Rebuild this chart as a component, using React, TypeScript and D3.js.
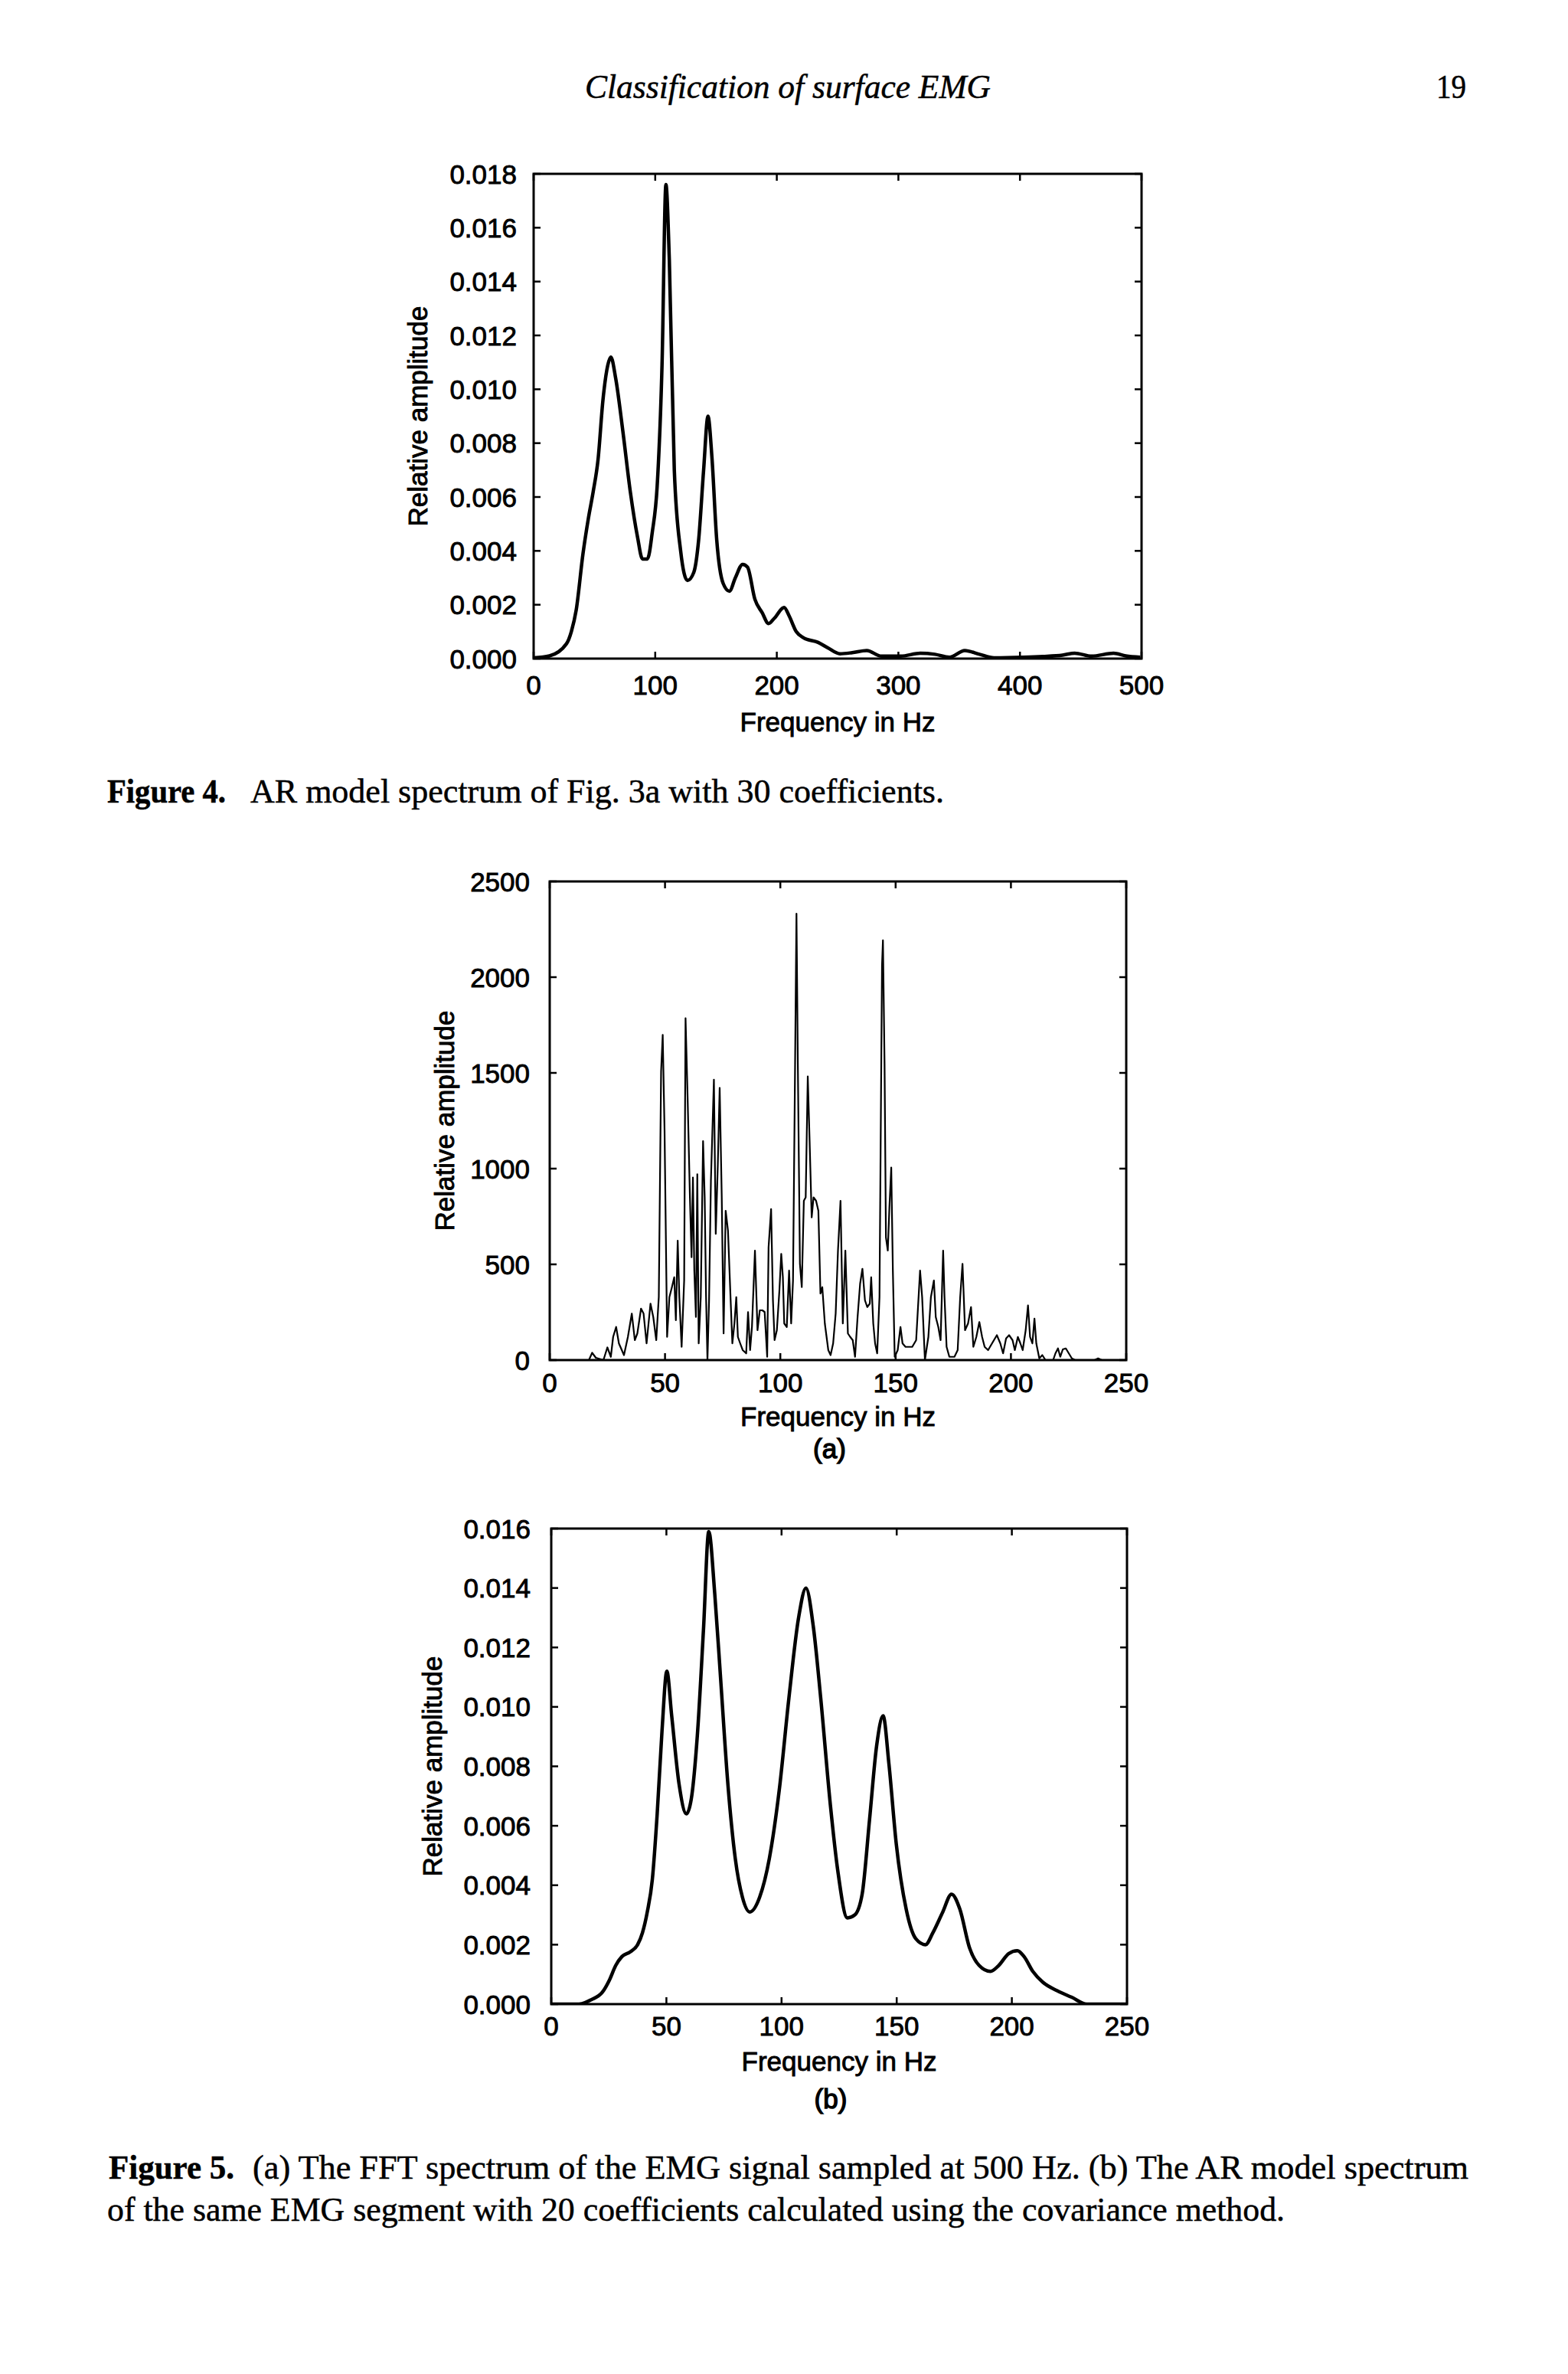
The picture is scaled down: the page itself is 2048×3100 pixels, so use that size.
import React from "react";
import * as d3 from "d3";

// ---------- Figure 4: AR model spectrum (30 coefficients) ----------
const fig4Freq = [
  0, 13, 27, 31, 35, 40.6, 45, 49, 53, 57,
  61, 63.5, 67.5, 73.5, 79.5, 85.5, 89.5, 93.6, 97.6, 101.6,
  105.6, 108.8, 111.6, 115.7, 120.9, 126.5, 131.7, 135.7, 139.8, 143.4,
  146.6, 150.6, 155.8, 161, 165.9, 171.9, 175.9, 182, 188, 193.2,
  198, 206, 210, 216, 222, 234, 242, 252, 262, 274,
  286, 302, 318, 330, 342, 354.6, 366.7, 378.7, 402.8, 418.9,
  435, 445, 459, 477, 487, 499,
];
const fig4Amp = [
  0.00003, 0.0001, 0.00055, 0.001, 0.0018, 0.0039, 0.0052, 0.0062, 0.0074, 0.0096,
  0.0109, 0.0112, 0.0104, 0.0084, 0.0062, 0.0045, 0.0037, 0.0037, 0.0047, 0.0064,
  0.0109, 0.0176, 0.0148, 0.007, 0.004, 0.0029, 0.0032, 0.0044, 0.007, 0.009,
  0.0075, 0.0044, 0.0028, 0.0025, 0.003, 0.0035, 0.0034, 0.0022, 0.0017, 0.0013,
  0.0015, 0.0019, 0.0016, 0.001, 0.00077, 0.0006, 0.0004, 0.00018, 0.00022, 0.0003,
  0.00009, 0.00009, 0.0002, 0.00016, 0.00005, 0.0003, 0.00016, 0.00003, 0.00005, 0.00008,
  0.00013, 0.0002, 0.00009, 0.0002, 0.0001, 0.00005,
];
const fig4XTicks = [0, 100, 200, 300, 400, 500];
const fig4YTicks = [0, 0.002, 0.004, 0.006, 0.008, 0.01, 0.012, 0.014, 0.016, 0.018];

// ---------- Figure 5a: FFT spectrum ----------
const fig5aFreq = [
  0, 17, 18.4, 20, 23.3, 25, 26.5, 27.5, 28.8, 30,
  32.2, 33.9, 35.6, 36.9, 38, 39.6, 40.7, 42, 43.7, 44.9,
  46.2, 47.3, 48.3, 49, 49.8, 50.9, 51.9, 53, 54, 54.7,
  55.5, 56.2, 57.2, 58.3, 58.9, 59.8, 60.8, 61.5, 62.1, 62.7,
  63.4, 64, 64.6, 65.5, 66.5, 67.2, 67.8, 68.4, 69.1, 69.9,
  70.8, 71.2, 72, 72.9, 73.7, 74.6, 75.4, 76.3, 77.3, 78.4,
  79.2, 80.1, 80.9, 81.6, 82.6, 83.7, 85.2, 86, 86.9, 87.7,
  89, 90.1, 91.1, 92.2, 93.2, 94.3, 94.9, 96, 96.8, 97.5,
  98.5, 99.6, 100.4, 101.1, 101.7, 102.8, 103.8, 104.7, 105.5, 106.4,
  107, 107.6, 108.5, 109.3, 110.2, 111, 111.9, 112.7, 113.6, 114.4,
  115.5, 116.5, 117.4, 118.2, 119.3, 120.8, 121.8, 122.9, 124, 125,
  126.1, 127.1, 128.2, 129.3, 130.3, 131.4, 132.4, 133.5, 134.6, 135.6,
  136.7, 137.7, 138.8, 139.4, 140.3, 141.1, 142, 143, 144.1, 144.5,
  145.2, 145.8, 146.6, 147.3, 148.1, 148.8, 149.6, 150.9, 152.1, 153,
  154.3, 155.7, 157.2, 158.9, 160.6, 161.5, 162.7, 164.2, 165.3, 166.6,
  167.4, 168.5, 169.5, 170.6, 171.2, 172.1, 173.3, 175.5, 176.9, 178,
  179, 180.1, 181.4, 182.7, 183.7, 185, 186.3, 187.5, 188.6, 190.1,
  191.8, 193.9, 195.4, 196.6, 197.9, 199.2, 200.7, 201.7, 203, 204.1,
  205.1, 206.4, 207.4, 208.3, 209.3, 210.2, 211, 212.3, 213.6, 215,
  218.3, 219.3, 220.4, 221.4, 222.5, 223.8, 225.1, 226.4, 227.8, 236.3,
  237.8, 239.4, 250,
];
const fig5aAmp = [
  0, 0, 38, 12, 0, 66, 17, 121, 173, 87,
  26, 121, 243, 104, 139, 269, 243, 87, 295, 225,
  104, 329, 1508, 1699, 1196, 121, 329, 381, 433, 208,
  624, 329, 69, 416, 1786, 1370, 850, 537, 954, 468,
  225, 971, 87, 329, 1144, 850, 329, 0, 312, 936,
  1300, 1465, 659, 1023, 1422, 850, 139, 780, 676, 329,
  87, 191, 329, 121, 87, 52, 35, 251, 52, 173,
  572, 156, 260, 260, 251, 17, 589, 789, 312, 104,
  156, 364, 555, 433, 191, 173, 468, 191, 416, 1543,
  2332, 1543, 503, 381, 832, 850, 1482, 1144, 745, 850,
  832, 780, 347, 381, 191, 52, 26, 87, 243, 572,
  832, 191, 572, 139, 121, 104, 17, 225, 399, 477,
  312, 277, 295, 433, 191, 87, 35, 329, 2063, 2193,
  1543, 641, 572, 797, 1006, 468, 17, 52, 173, 87,
  69, 69, 69, 104, 468, 329, 0, 121, 329, 416,
  225, 173, 104, 572, 329, 69, 17, 17, 52, 329,
  503, 156, 191, 277, 69, 121, 199, 121, 69, 52,
  87, 130, 87, 35, 113, 130, 104, 52, 121, 87,
  52, 156, 286, 121, 87, 217, 87, 9, 26, 0,
  0, 35, 61, 17, 56, 61, 35, 9, 0, 0,
  9, 0, 0,
];
const fig5aXTicks = [0, 50, 100, 150, 200, 250];
const fig5aYTicks = [0, 500, 1000, 1500, 2000, 2500];

// ---------- Figure 5b: AR model spectrum (20 coefficients) ----------
const fig5bFreq = [
  0, 12, 17.4, 22.2, 25.2, 28, 30.7, 34.3, 37.5, 39.6,
  41.7, 43.9, 46, 48.1, 50.2, 52.3, 55.5, 58.7, 60.8, 63.4,
  66.1, 68.4, 71, 73.5, 76.7, 79.9, 83, 86.2, 90.5, 94.7,
  99, 103.2, 107.4, 110.6, 113.8, 117, 121.2, 124.4, 128.6, 131.8,
  135, 138.2, 141.3, 144.1, 146.6, 149.8, 154.1, 158.3, 162.5, 165.7,
  170, 173.8, 177.4, 181.6, 185.8, 190.7, 194.3, 198.6, 202.4, 205.3,
  209.1, 213.4, 219.7, 226, 232.5, 250,
];
const fig5bAmp = [
  0, 0, 0.00015, 0.0004, 0.0008, 0.0013, 0.0016, 0.00176, 0.002, 0.0024,
  0.0031, 0.0042, 0.0064, 0.0092, 0.0112, 0.0097, 0.0074, 0.0064, 0.0069, 0.009,
  0.0126, 0.0159, 0.0138, 0.011, 0.0074, 0.0049, 0.0036, 0.0031, 0.0036, 0.0049,
  0.0072, 0.0103, 0.013, 0.014, 0.0127, 0.0103, 0.0067, 0.0045, 0.0029, 0.003,
  0.0037, 0.0062, 0.0087, 0.0097, 0.0081, 0.0054, 0.0032, 0.0022, 0.002, 0.0024,
  0.0031, 0.0037, 0.0032, 0.0019, 0.0013, 0.0011, 0.0013, 0.0017, 0.0018, 0.0016,
  0.0011, 0.00074, 0.00045, 0.00023, 0, 0,
];
const fig5bXTicks = [0, 50, 100, 150, 200, 250];
const fig5bYTicks = [0, 0.002, 0.004, 0.006, 0.008, 0.01, 0.012, 0.014, 0.016];

const SANS = "'Liberation Sans', Arial, Helvetica, sans-serif";
const SERIF = "'Liberation Serif', 'Times New Roman', serif";

// scanned-look: text slightly heavier
const sansStyle = { fontFamily: SANS, fontSize: 35, fill: "#000", stroke: "#000", strokeWidth: 0.9 };
const serifStroke = { stroke: "#000", strokeWidth: 0.5 };

type PlotProps = {
  id: string;
  left: number;
  right: number;
  top: number;
  bottom: number;
  xMax: number;
  yMax: number;
  xTicks: number[];
  yTicks: number[];
  yFmt: (v: number) => string;
  freq: number[];
  amp: number[];
  strokeWidth: number;
  smooth: boolean;
  yTickGap: number;
  xTickBaseline: number;
  yTitleX: number;
  xTitleBaseline: number;
  sub?: string;
  subBaseline?: number;
};

function Plot(p: PlotProps) {
  const x = d3.scaleLinear().domain([0, p.xMax]).range([p.left, p.right]);
  const y = d3.scaleLinear().domain([0, p.yMax]).range([p.bottom, p.top]);
  const n = Math.min(p.freq.length, p.amp.length);
  const pts: [number, number][] = d3.range(n).map((i) => [p.freq[i], p.amp[i]]);
  const line = d3
    .line<[number, number]>()
    .x((d) => x(d[0]))
    .y((d) => y(d[1]))
    .curve(p.smooth ? d3.curveMonotoneX : d3.curveLinear);
  const tl = 9;
  const cx = (p.left + p.right) / 2;
  const cy = (p.top + p.bottom) / 2;
  return (
    <g>
      <defs>
        <clipPath id={p.id}>
          <rect x={p.left} y={p.top - 2} width={p.right - p.left} height={p.bottom - p.top + 2} />
        </clipPath>
      </defs>
      <path
        d={line(pts) || ""}
        fill="none"
        stroke="#000"
        strokeWidth={p.strokeWidth}
        strokeLinejoin="round"
        clipPath={`url(#${p.id})`}
      />
      {p.xTicks.map((t) => (
        <g key={"xt" + t}>
          <line x1={x(t)} x2={x(t)} y1={p.bottom} y2={p.bottom - tl} stroke="#000" strokeWidth={2.5} />
          <line x1={x(t)} x2={x(t)} y1={p.top} y2={p.top + tl} stroke="#000" strokeWidth={2.5} />
          <text x={x(t)} y={p.xTickBaseline} textAnchor="middle" {...sansStyle}>
            {t}
          </text>
        </g>
      ))}
      {p.yTicks.map((t) => (
        <g key={"yt" + t}>
          <line x1={p.left} x2={p.left + tl} y1={y(t)} y2={y(t)} stroke="#000" strokeWidth={2.5} />
          <line x1={p.right} x2={p.right - tl} y1={y(t)} y2={y(t)} stroke="#000" strokeWidth={2.5} />
          <text x={p.left - p.yTickGap} y={y(t) + 12.5} textAnchor="end" {...sansStyle}>
            {p.yFmt(t)}
          </text>
        </g>
      ))}
      <rect
        x={p.left}
        y={p.top}
        width={p.right - p.left}
        height={p.bottom - p.top}
        fill="none"
        stroke="#000"
        strokeWidth={3}
      />
      <text
        transform={`translate(${p.yTitleX},${cy}) rotate(-90)`}
        textAnchor="middle"
        {...sansStyle}
      >
        Relative amplitude
      </text>
      <text x={cx} y={p.xTitleBaseline} textAnchor="middle" {...sansStyle}>
        Frequency in Hz
      </text>
      {p.sub ? (
        <text x={cx - 11} y={p.subBaseline} textAnchor="middle" {...sansStyle} strokeWidth={1.4}>
          {p.sub}
        </text>
      ) : null}
    </g>
  );
}

export default function App() {
  const f3 = d3.format(".3f");
  const fd = d3.format("d");
  return (
    <svg
      width={2048}
      height={3100}
      viewBox="0 0 2048 3100"
      style={{ position: "absolute", left: 0, top: 0, background: "#fff" }}
    >
      <rect x={0} y={0} width={2048} height={3100} fill="#fff" />
      <text
        x={764}
        y={128}
        fontFamily={SERIF}
        fontStyle="italic"
        fontSize={44}
        textLength={530}
        lengthAdjust="spacingAndGlyphs"
        fill="#000"
        {...serifStroke}
      >
        Classification of surface EMG
      </text>
      <text x={1876} y={128} fontFamily={SERIF} fontSize={44} textLength={39} lengthAdjust="spacingAndGlyphs" fill="#000" {...serifStroke}>
        19
      </text>

      <Plot
        id="c1"
        left={697}
        right={1491}
        top={227}
        bottom={860}
        xMax={500}
        yMax={0.018}
        xTicks={fig4XTicks}
        yTicks={fig4YTicks}
        yFmt={f3}
        freq={fig4Freq}
        amp={fig4Amp}
        strokeWidth={4.5}
        smooth={true}
        yTickGap={22}
        xTickBaseline={907}
        yTitleX={558}
        xTitleBaseline={955}
      />

      <text x={140} y={1048} fontFamily={SERIF} fontWeight="bold" fontSize={44} textLength={155} lengthAdjust="spacingAndGlyphs" fill="#000" {...serifStroke}>
        Figure 4.
      </text>
      <text x={327} y={1048} fontFamily={SERIF} fontSize={44} textLength={906} lengthAdjust="spacingAndGlyphs" fill="#000" {...serifStroke}>
        AR model spectrum of Fig. 3a with 30 coefficients.
      </text>

      <Plot
        id="c2"
        left={718}
        right={1471}
        top={1151}
        bottom={1776}
        xMax={250}
        yMax={2500}
        xTicks={fig5aXTicks}
        yTicks={fig5aYTicks}
        yFmt={fd}
        freq={fig5aFreq}
        amp={fig5aAmp}
        strokeWidth={2.2}
        smooth={false}
        yTickGap={26}
        xTickBaseline={1818}
        yTitleX={593}
        xTitleBaseline={1862}
        sub="(a)"
        subBaseline={1904}
      />

      <Plot
        id="c3"
        left={720}
        right={1472}
        top={1996}
        bottom={2617}
        xMax={250}
        yMax={0.016}
        xTicks={fig5bXTicks}
        yTicks={fig5bYTicks}
        yFmt={f3}
        freq={fig5bFreq}
        amp={fig5bAmp}
        strokeWidth={4.5}
        smooth={true}
        yTickGap={27}
        xTickBaseline={2658}
        yTitleX={577}
        xTitleBaseline={2704}
        sub="(b)"
        subBaseline={2753}
      />

      <text x={142} y={2845} fontFamily={SERIF} fontWeight="bold" fontSize={44} textLength={164} lengthAdjust="spacingAndGlyphs" fill="#000" {...serifStroke}>
        Figure 5.
      </text>
      <text x={330} y={2845} fontFamily={SERIF} fontSize={44} textLength={1588} lengthAdjust="spacingAndGlyphs" fill="#000" {...serifStroke}>
        (a) The FFT spectrum of the EMG signal sampled at 500 Hz. (b) The AR model spectrum
      </text>
      <text x={140} y={2900} fontFamily={SERIF} fontSize={44} textLength={1538} lengthAdjust="spacingAndGlyphs" fill="#000" {...serifStroke}>
        of the same EMG segment with 20 coefficients calculated using the covariance method.
      </text>
    </svg>
  );
}
